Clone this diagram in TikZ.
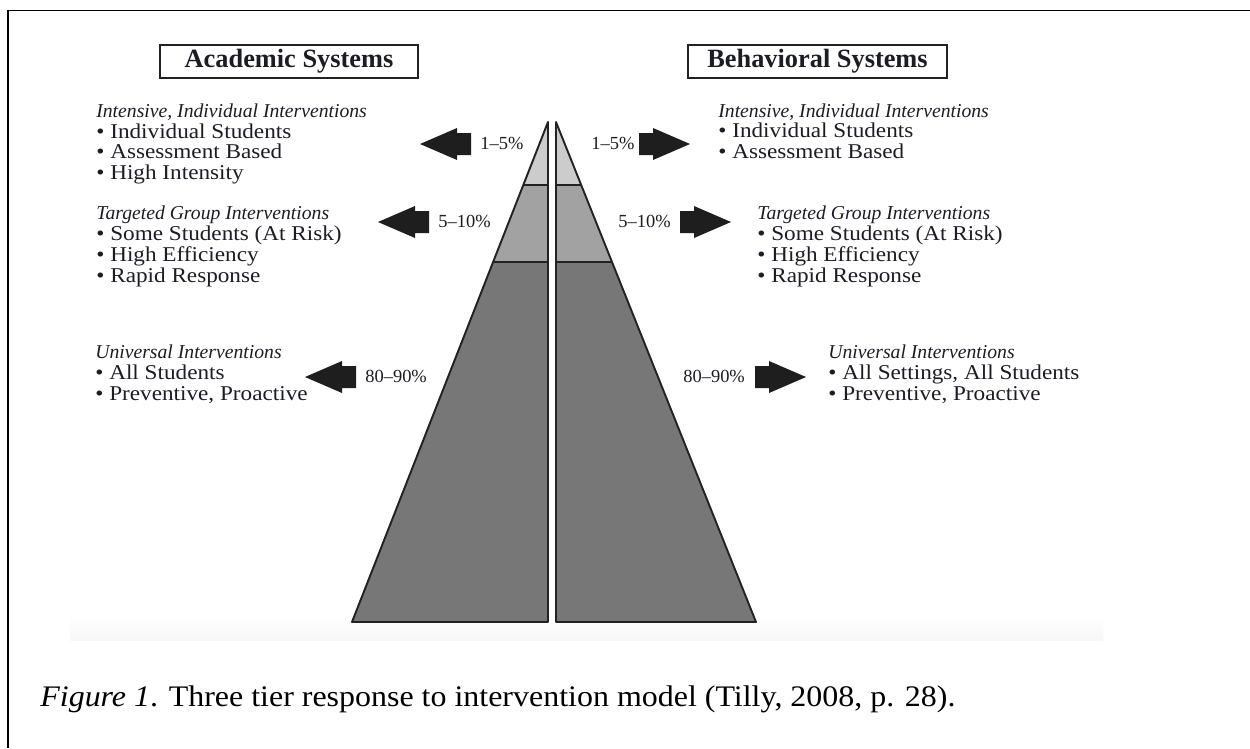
\documentclass[tikz,border=0pt]{standalone}
\usepackage{fontspec}
\setmainfont{Liberation Serif}
\usetikzlibrary{calc}
\definecolor{txt}{HTML}{1C1C26}
\definecolor{tierA}{HTML}{CCCCCC}
\definecolor{tierB}{HTML}{A2A2A2}
\definecolor{tierC}{HTML}{777777}
\definecolor{edge}{HTML}{222222}
\definecolor{arrowfill}{HTML}{1E1E1E}
\newcommand\tfont{\fontsize{12}{13}\selectfont}
\newcommand\ifont{\fontsize{11.2}{12}\selectfont\itshape}
\newcommand\pfont{\fontsize{10.5}{11}\selectfont}
\newcommand\hfont{\fontsize{15}{16}\selectfont\bfseries}
\begin{document}
\begin{tikzpicture}[x=0.02cm,y=-0.02cm,
  lbl/.style={anchor=base west,inner sep=0pt,text=txt,font=\tfont,xscale=1.1},
  ital/.style={anchor=base west,inner sep=0pt,text=txt,font=\ifont},
  pct/.style={anchor=base west,inner sep=0pt,text=txt,font=\pfont},
  header/.style={draw=edge,line width=1.5pt,inner sep=0pt,minimum height=33*0.02cm,text=txt,font=\hfont},
  tierline/.style={draw=edge,line width=1.1pt,line join=round},
  larrow/.pic={\fill[arrowfill] (0,0) -- (37,-16) -- (37,-11) -- (51,-11) -- (51,11) -- (37,11) -- (37,16) -- cycle;},
  rarrow/.pic={\fill[arrowfill] (0,0) -- (-37,-16) -- (-37,-11) -- (-51,-11) -- (-51,11) -- (-37,11) -- (-37,16) -- cycle;}
]
\useasboundingbox (0,0) rectangle (1250,748);
\fill[white] (0,0) rectangle (1250,748);
% frame
\draw[line width=1.1pt,black] (1250,10.5) -- (8,10.5) -- (8,748);
% faint shadow under pyramid
\shade[top color=white,bottom color=black!3] (70,615) rectangle (1103,640);

% pyramid corner points
\coordinate (LA) at (548,122);
\coordinate (LB) at (352,622);
\coordinate (LC) at (548,622);
\coordinate (RA) at (556,122);
\coordinate (RB) at (756,622);
\coordinate (RC) at (556,622);
\coordinate (L1) at ($(LA)!0.126!(LB)$);
\coordinate (L2) at ($(LA)!0.28!(LB)$);
\coordinate (L1i) at (548,185);
\coordinate (L2i) at (548,262);
\coordinate (R1) at ($(RA)!0.126!(RB)$);
\coordinate (R2) at ($(RA)!0.28!(RB)$);
\coordinate (R1i) at (556,185);
\coordinate (R2i) at (556,262);

\fill[tierA] (LA) -- (L1) -- (L1i) -- cycle;
\fill[tierB] (L1) -- (L2) -- (L2i) -- (L1i) -- cycle;
\fill[tierC] (L2) -- (LB) -- (LC) -- (L2i) -- cycle;
\fill[tierA] (RA) -- (R1) -- (R1i) -- cycle;
\fill[tierB] (R1) -- (R2) -- (R2i) -- (R1i) -- cycle;
\fill[tierC] (R2) -- (RB) -- (RC) -- (R2i) -- cycle;
\draw[tierline] (LA) -- (LB) -- (LC) -- cycle;
\draw[tierline] (L1) -- (L1i) (L2) -- (L2i);
\draw[tierline] (RA) -- (RB) -- (RC) -- cycle;
\draw[tierline] (R1) -- (R1i) (R2) -- (R2i);

% headers
\node[header,minimum width=258*0.02cm] (hacad) at (289,61.5) {Academic Systems};
\node[header,minimum width=259*0.02cm] (hbeh) at (817.5,61.5) {Behavioral Systems};

% arrows
\pic at (420,144) {larrow};
\pic at (378,222) {larrow};
\pic at (305,377) {larrow};
\pic at (690,144) {rarrow};
\pic at (731,222) {rarrow};
\pic at (806,377) {rarrow};

% percentages
\node[pct] (p1l) at (480,149) {1--5\%};
\node[pct] (p2l) at (438,227) {5--10\%};
\node[pct] (p3l) at (365,382) {80--90\%};
\node[pct] (p1r) at (591,149) {1--5\%};
\node[pct] (p2r) at (618,227) {5--10\%};
\node[pct] (p3r) at (683,382) {80--90\%};

% left texts
\node[ital] (a1h) at (96,117) {Intensive, Individual Interventions};
\node[lbl] (a1a) at (96,138) {• Individual Students};
\node[lbl] (a1b) at (96,158.5) {• Assessment Based};
\node[lbl] (a1c) at (96,179) {• High Intensity};
\node[ital] (a2h) at (96,219) {Targeted Group Interventions};
\node[lbl] (a2a) at (96,240.5) {• Some Students (At Risk)};
\node[lbl] (a2b) at (96,261.5) {• High Efficiency};
\node[lbl] (a2c) at (96,282.5) {• Rapid Response};
\node[ital] (a3h) at (95,358) {Universal Interventions};
\node[lbl] (a3a) at (95,379) {• All Students};
\node[lbl] (a3b) at (95,400) {• Preventive, Proactive};

% right texts
\node[ital] (b1h) at (718,117) {Intensive, Individual Interventions};
\node[lbl] (b1a) at (718,137.5) {• Individual Students};
\node[lbl] (b1b) at (718,158.5) {• Assessment Based};
\node[ital] (b2h) at (757,219) {Targeted Group Interventions};
\node[lbl] (b2a) at (757,240.5) {• Some Students (At Risk)};
\node[lbl] (b2b) at (757,261.5) {• High Efficiency};
\node[lbl] (b2c) at (757,282.5) {• Rapid Response};
\node[ital] (b3h) at (828,358) {Universal Interventions};
\node[lbl] (b3a) at (828,379) {• All Settings, All Students};
\node[lbl] (b3b) at (828,400) {• Preventive, Proactive};

% caption
\node[anchor=base west,inner sep=0pt,xscale=1.07,font=\fontsize{17}{19}\selectfont] (cap) at (40,706) {\textit{Figure 1}. Three tier response to intervention model (Tilly, 2008, p. 28).};
\end{tikzpicture}
\end{document}
